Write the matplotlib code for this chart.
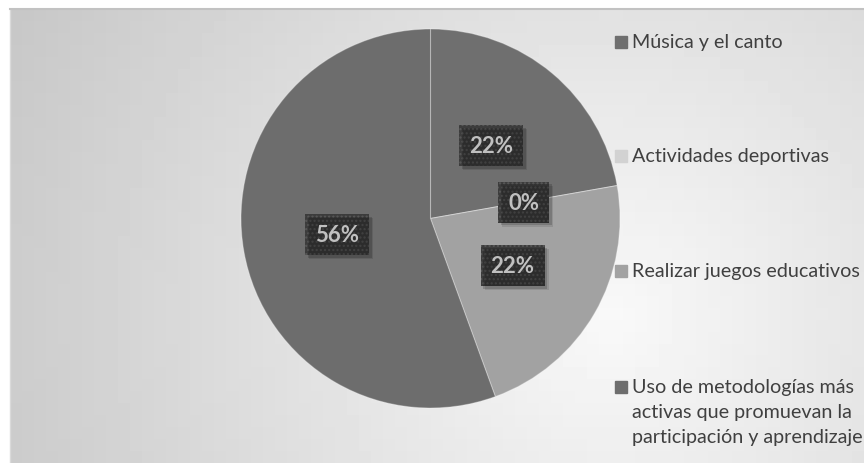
import numpy as np
import matplotlib
matplotlib.use("Agg")
import matplotlib.pyplot as plt
from matplotlib.patches import Rectangle

plt.rcParams['font.family'] = ['Lato', 'DejaVu Sans']

# survey answers (9 people)
categories = ['Música y el canto',
              'Actividades deportivas',
              'Realizar juegos educativos',
              'Uso de metodologías más\nactivas que promuevan la\nparticipación y aprendizaje']
counts = [2, 0, 2, 5]
colors = ['#6f6f6f', '#d2d2d2', '#a2a2a2', '#6d6d6d']

W, H = 864, 464
fig = plt.figure(figsize=(W / 100, H / 100), dpi=100)
fig.patch.set_facecolor('white')

# background panel, pixel coordinates
bg = fig.add_axes([10 / W, 0, (W - 10) / W, (H - 10) / H], zorder=0)
xs = np.arange(16, W, 12)
ys = np.arange(16, H, 12)
X, Y = np.meshgrid(xs, ys)
dist = np.hypot(X - 610, Y - 320)
shade = np.clip(0.975 - 0.00029 * dist, 0.75, 1.0)
bg.imshow(shade, cmap='gray', vmin=0, vmax=1, extent=(10, W, H, 10),
          aspect='auto', interpolation='nearest')
bg.set_xlim(10, W)
bg.set_ylim(H, 10)
bg.set_xticks([])
bg.set_yticks([])
for side in ('right', 'bottom'):
    bg.spines[side].set_visible(False)
bg.spines['top'].set_color('#c2c2c2')
bg.spines['top'].set_linewidth(1.5)
bg.spines['left'].set_color('#dadada')
bg.spines['left'].set_linewidth(1.0)

# pie
cx, cy, r = 430.5, 219.5, 189.5
ax = fig.add_axes([(cx - r) / W, (H - cy - r) / H, 2 * r / W, 2 * r / H], zorder=1)
wedges, _, autotexts = ax.pie(
    counts, colors=colors, startangle=90, counterclock=False,
    autopct=lambda p: f'{p:.0f}%', pctdistance=0.5,
    wedgeprops=dict(edgecolor=(1, 1, 1, 0.3), linewidth=0.8),
    textprops=dict(color='white', fontsize=16, fontweight='bold'))
ax.set_xlim(-1, 1)
ax.set_ylim(-1, 1)

for t in autotexts:
    t.set_zorder(5)
    t.set_bbox(dict(boxstyle='square,pad=0.45', fc='#3c3c3c', ec='#585858',
                    lw=0, hatch='....'))

# soft drop shadow under the label boxes
fig.canvas.draw()
for t in autotexts:
    ext = t.get_bbox_patch().get_window_extent()
    for k, a in ((4, 0.10), (2.5, 0.16)):
        fig.patches.append(Rectangle((ext.x0 + k, ext.y0 - k), ext.width, ext.height,
                                     transform=None, fc=(0, 0, 0, a), ec='none',
                                     zorder=1.5, figure=fig))

# legend
legend_y = [42.5, 157, 272, 388]
line_gap = 25
for label, c, y0 in zip(categories, colors, legend_y):
    bg.add_patch(Rectangle((614.5, y0 - 6), 12, 12, color=c, zorder=3))
    for i, line in enumerate(label.split('\n')):
        bg.text(632, y0 + i * line_gap, line, ha='left', va='center',
                fontsize=14.2, color='#404040', zorder=3)

fig.savefig('out.png', dpi=100)
